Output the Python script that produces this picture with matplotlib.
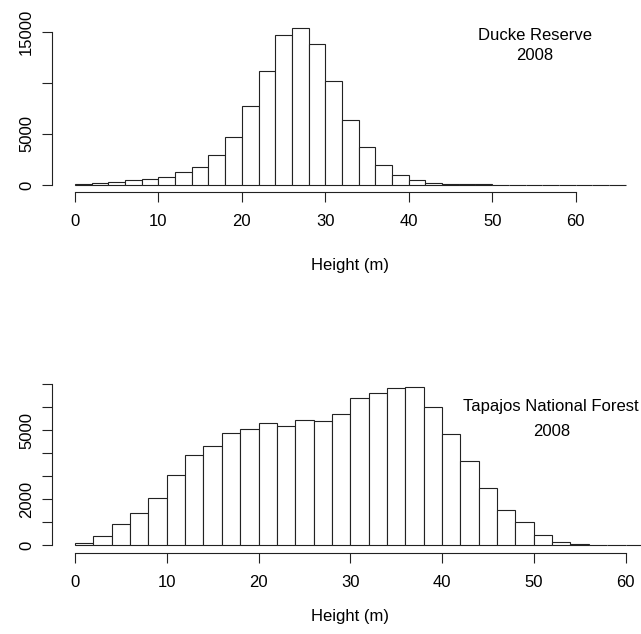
import numpy as np
import matplotlib
matplotlib.use("Agg")
import matplotlib.pyplot as plt

plt.rcParams['font.family'] = ['Liberation Sans', 'DejaVu Sans']
plt.rcParams['font.size'] = 12

# histogram counts, 2 m bins starting at 0
ducke_counts = [50, 230, 330, 456, 555, 815, 1240, 1790, 2935, 4695, 7790, 11220,
                14740, 15420, 13825, 10170, 6420, 3685, 1925, 945, 455, 240, 140,
                100, 70, 30, 20, 12, 8, 5, 3, 2, 1]
tapajos_counts = [73, 406, 900, 1408, 2046, 3033, 3918, 4296, 4862, 5036, 5312, 5181,
                  5443, 5400, 5704, 6386, 6604, 6821, 6865, 6023, 4819, 3657, 2482,
                  1524, 990, 435, 145, 55, 15, 5, 2, 1]
bin_width = 2

x_ticks = [0, 10, 20, 30, 40, 50, 60]
ducke_yticks = [0, 5000, 10000, 15000]
ducke_ylabels = ['0', '5000', '', '15000']
tapajos_yticks = [0, 1000, 2000, 3000, 4000, 5000, 6000, 7000]
tapajos_ylabels = ['0', '', '2000', '', '', '5000', '', '']

W, H = 641, 634
fig = plt.figure(figsize=(W / 100, H / 100), dpi=100)


def panel(top_px, base_px, x0_px, x60_px, ytop_px, ytop_val, counts, yticks, ylabels, off_px):
    left_px = 52
    ax = fig.add_axes([left_px / W, 1 - base_px / H, (W - left_px) / W, (base_px - top_px) / H])
    per = (x60_px - x0_px) / 60.0
    ax.set_xlim((left_px - x0_px) / per, (W - x0_px) / per)
    ax.set_ylim(0, ytop_val * (base_px - top_px) / (base_px - ytop_px))
    edges = np.arange(len(counts)) * bin_width
    ax.bar(edges, counts, width=bin_width, align='edge', facecolor='white',
           edgecolor='#222222', linewidth=0.8, clip_on=False)
    for s in ['top', 'right']:
        ax.spines[s].set_visible(False)
    ax.spines['left'].set_bounds(yticks[0], yticks[-1])
    ax.spines['bottom'].set_bounds(0, 60)
    ax.spines['bottom'].set_position(('outward', off_px * 0.72))
    for s in ['left', 'bottom']:
        ax.spines[s].set_linewidth(0.8)
        ax.spines[s].set_color('#222222')
    ax.set_xticks(x_ticks)
    ax.set_yticks(yticks)
    ax.set_yticklabels(ylabels, rotation=90, va='center')
    ax.tick_params(length=7, width=0.8, color='#222222', labelsize=12)
    ax.tick_params(axis='x', pad=9)
    ax.tick_params(axis='y', pad=6)
    return ax


ax1 = panel(20, 185, 75, 575.6, 32, 15000, ducke_counts, ducke_yticks, ducke_ylabels, 7)
ax2 = panel(370, 545, 75, 625.5, 384.3, 7000, tapajos_counts, tapajos_yticks, tapajos_ylabels, 8)

fig.text(350 / W, 1 - 265 / H, 'Height (m)', ha='center', va='center')
fig.text(350 / W, 1 - 617 / H, 'Height (m)', ha='center', va='center')

fig.text(535 / W, 1 - 35 / H, 'Ducke Reserve', ha='center', va='center')
fig.text(535 / W, 1 - 56 / H, '2008', ha='center', va='center')
fig.text(551 / W, 1 - 407 / H, 'Tapajos National Forest', ha='center', va='center')
fig.text(552 / W, 1 - 431 / H, '2008', ha='center', va='center')

fig.savefig('out.png', dpi=100, facecolor='white')
